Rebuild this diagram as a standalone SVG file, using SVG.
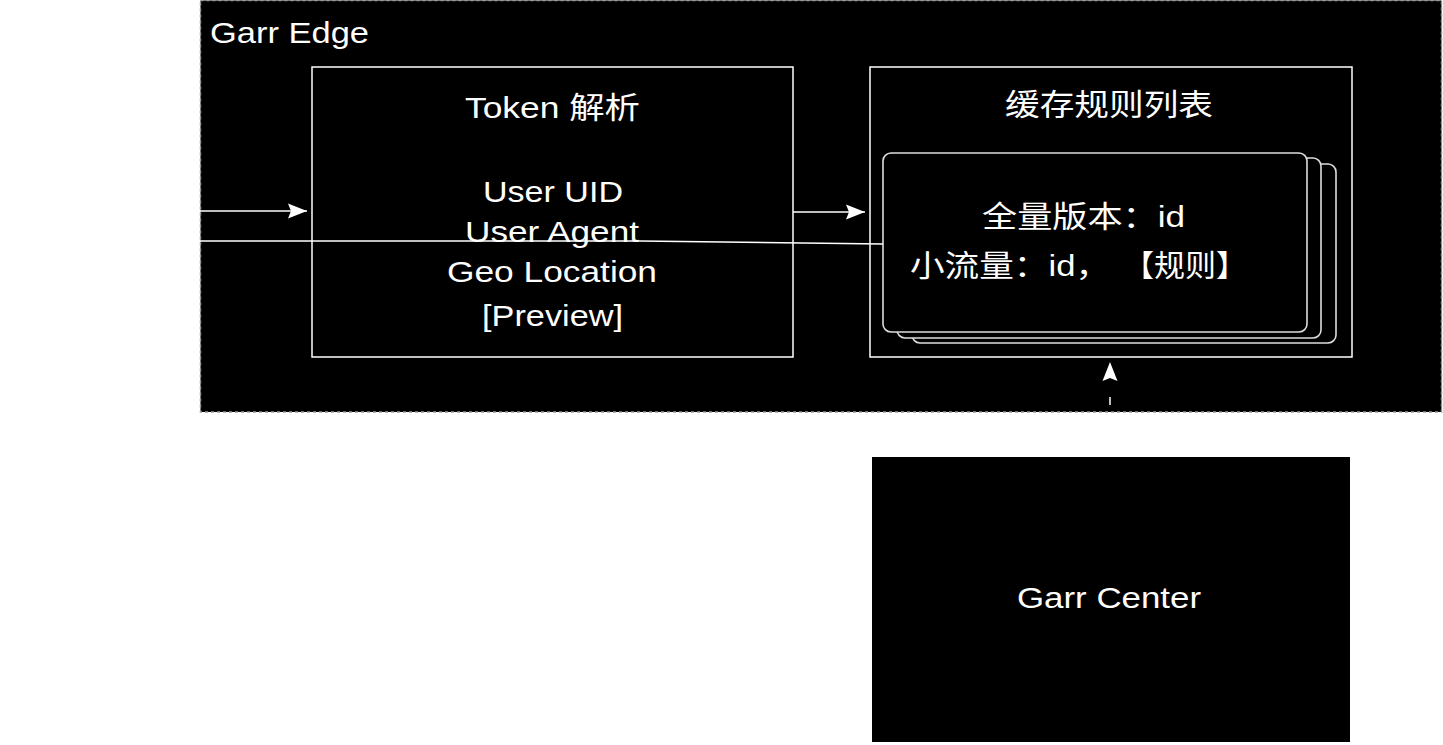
<svg xmlns="http://www.w3.org/2000/svg" width="1443" height="745" viewBox="0 0 1443 745">
<defs>
<style>
.t{font-family:"Liberation Sans","Noto Sans CJK SC",sans-serif;font-size:30px;fill:#ffffff}
.box{fill:#000000;stroke:#ffffff;stroke-width:1.5}
.card{fill:#000000;stroke:#dddddd;stroke-width:1.6}
.conn{fill:none;stroke:#ffffff;stroke-width:1.5}
</style>
<marker id="ah" viewBox="0 0 20 16" refX="19" refY="8" markerWidth="20" markerHeight="16" markerUnits="userSpaceOnUse" orient="auto">
<path d="M0 0.5 L19 8 L0 15.5 L3 8 Z" fill="#ffffff"/>
</marker>
</defs>
<rect width="1443" height="745" fill="#ffffff"/>
<g id="garr-edge">
<rect x="200.5" y="0.5" width="1241" height="411.5" fill="#000000" stroke="#999999" stroke-width="1.5" stroke-dasharray="3 3"/>
<text class="t" x="210" y="43" textLength="159" lengthAdjust="spacingAndGlyphs">Garr Edge</text>
</g>
<g id="token">
<rect class="box" x="312" y="67" width="481" height="290"/>
<text class="t" x="465" y="118" textLength="175" lengthAdjust="spacingAndGlyphs">Token 解析</text>
<text class="t" x="483" y="202" textLength="140" lengthAdjust="spacingAndGlyphs">User UID</text>
<text class="t" x="465" y="242" textLength="174" lengthAdjust="spacingAndGlyphs">User Agent</text>
<text class="t" x="447" y="282" textLength="210" lengthAdjust="spacingAndGlyphs">Geo Location</text>
<text class="t" x="482" y="326" textLength="141" lengthAdjust="spacingAndGlyphs">[Preview]</text>
</g>
<g id="cache">
<rect class="box" x="870" y="67" width="482" height="290"/>
<text class="t" x="1005" y="115" textLength="208" lengthAdjust="spacingAndGlyphs">缓存规则列表</text>
<rect class="card" x="912" y="164" width="424" height="179" rx="8"/>
<rect class="card" x="897" y="158" width="424" height="180" rx="8"/>
<rect class="card" x="883" y="153" width="424" height="179" rx="8"/>
<text class="t" x="982" y="227" textLength="203" lengthAdjust="spacingAndGlyphs">全量版本：id</text>
<text class="t" x="910" y="276" textLength="200" lengthAdjust="spacingAndGlyphs">小流量：id，</text>
<text class="t" x="1123" y="276" textLength="124" lengthAdjust="spacingAndGlyphs">【规则】</text>
</g>
<g id="garr-center">
<rect x="872" y="457" width="478" height="285" fill="#000000"/>
<text class="t" x="1017" y="608" textLength="184" lengthAdjust="spacingAndGlyphs">Garr Center</text>
</g>
<g id="connectors">
<path class="conn" d="M199 211 L307 211" marker-end="url(#ah)"/>
<path class="conn" d="M793 212 L865 212" marker-end="url(#ah)"/>
<path class="conn" d="M200 241 L640 241 L883 244"/>
<path class="conn" d="M1110 457 L1110 362" stroke-dasharray="8 35" stroke-dashoffset="-9" marker-end="url(#ah)"/>
</g>
</svg>
